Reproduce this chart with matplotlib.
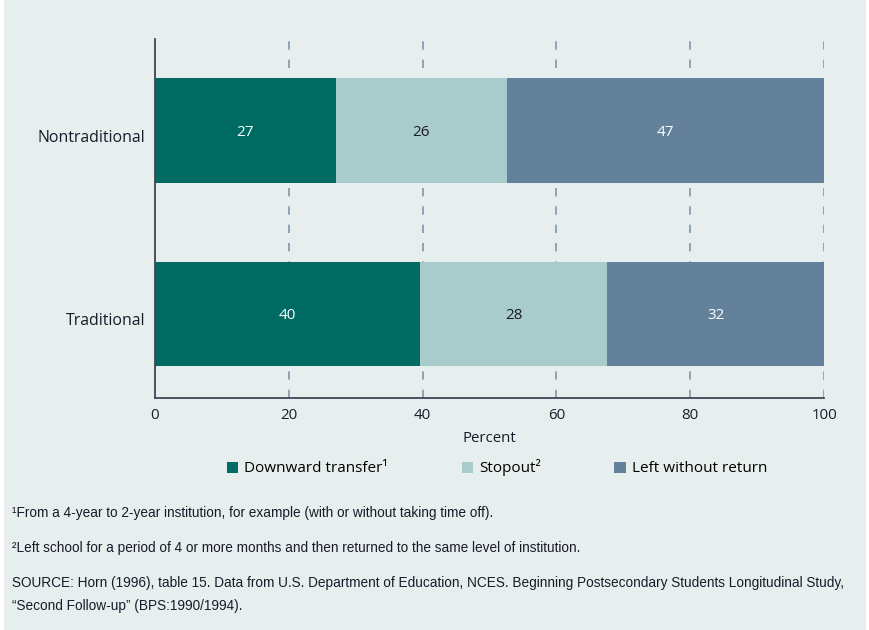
import matplotlib.pyplot as plt
import matplotlib.transforms as mtransforms
from matplotlib.patches import Rectangle, Patch

categories = ["Traditional", "Nontraditional"]
series = ["Downward transfer\u00b9", "Stopout\u00b2", "Left without return"]
downward = [39.6, 27.05]
stopout = [28.0, 25.55]
left_out = [32.4, 47.4]
xticks = [0, 20, 40, 60, 80, 100]

colors = ["#006b63", "#a8cccb", "#64819c"]
text_colors = ["white", "#1a1a2a", "white"]
bg = "#e7efee"

plt.rcParams['font.family'] = ['Open Sans', 'DejaVu Sans']

fig = plt.figure(figsize=(8.69, 6.3), dpi=100, facecolor=bg)
# thin white margins left and right, like the reference panel
fig.patches.append(Rectangle((0, 0), 4 / 869, 1, transform=fig.transFigure,
                             facecolor="white", edgecolor="none"))
fig.patches.append(Rectangle((866 / 869, 0), 3 / 869, 1, transform=fig.transFigure,
                             facecolor="white", edgecolor="none"))

ax = fig.add_axes([155 / 869, 1 - 398 / 630, 669 / 869, 359 / 630])
ax.set_facecolor(bg)
ax.set_zorder(2)

ypos = list(range(len(categories)))
left = [0] * len(categories)
for vals, col, tcol, name in zip([downward, stopout, left_out], colors, text_colors, series):
    bars = ax.barh(ypos, vals, left=left, height=0.57, color=col, label=name, zorder=2)
    for b, v in zip(bars, vals):
        ax.text(b.get_x() + b.get_width() / 2, b.get_y() + b.get_height() / 2 - 0.012,
                f"{round(v)}", ha="center", va="center", color=tcol, fontsize=11, zorder=3)
    left = [l + v for l, v in zip(left, vals)]

ax.set_xlim(0, 100)
ax.set_ylim(-0.46, 1.5)
ax.set_xticks(xticks)
ax.set_yticks(ypos)
ax.set_yticklabels(categories, fontsize=11.4, color="#1a1a2a")
ax.tick_params(axis="x", length=0, pad=7, labelsize=10.8, labelcolor="#1a1a2a")
ax.tick_params(axis="y", length=0, pad=7)
ax.set_xlabel("Percent", fontsize=10.8, color="#1a1a2a", labelpad=6)

# push category labels down a touch
shift = mtransforms.ScaledTranslation(0, -5 / 100, fig.dpi_scale_trans)
for lab in ax.get_yticklabels():
    lab.set_transform(lab.get_transform() + shift)

for x in xticks[1:]:
    ax.axvline(x, color="#7f98ad", linestyle=(0, (5, 6)), linewidth=1.2, zorder=1)

for s in ["top", "right"]:
    ax.spines[s].set_visible(False)
for s in ["left", "bottom"]:
    ax.spines[s].set_color("#444455")
    ax.spines[s].set_linewidth(1.3)

handles = [Patch(facecolor=c, edgecolor="none") for c in colors]
fig.legend(handles, series, loc="center", bbox_to_anchor=(497 / 869, 1 - 468 / 630),
           ncol=3, frameon=False, fontsize=11, handlelength=0.75, handleheight=0.75,
           handletextpad=0.4, columnspacing=4.8)

notes = [
    ("\u00b9From a 4-year to 2-year institution, for example (with or without taking time off).", 513),
    ("\u00b2Left school for a period of 4 or more months and then returned to the same level of institution.", 548),
    ("SOURCE: Horn (1996), table 15. Data from U.S. Department of Education, NCES. Beginning Postsecondary Students Longitudinal Study,", 583),
    ("\u201cSecond Follow-up\u201d (BPS:1990/1994).", 606),
]
for txt, y in notes:
    fig.text(12 / 869, 1 - y / 630, txt, ha="left", va="center", fontsize=9.8,
             color="#1a1a2a", family=["Liberation Sans", "DejaVu Sans"])

fig.savefig("out.png", dpi=100, facecolor=fig.get_facecolor())
